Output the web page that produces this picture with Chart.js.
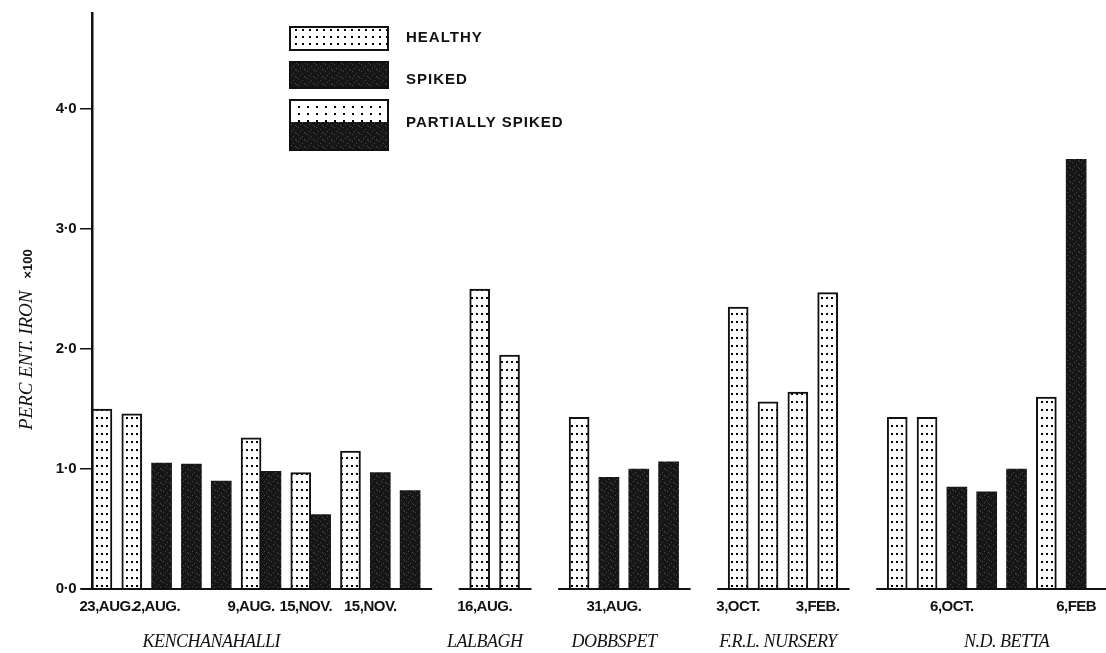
<!DOCTYPE html>
<html>
<head>
<meta charset="utf-8">
<script src="https://cdn.jsdelivr.net/npm/chart.js@4.4.1/dist/chart.umd.min.js"></script>
<style>
  html,body{margin:0;padding:0;background:#fff;}
  #wrap{width:1106px;height:653px;}
</style>
</head>
<body>
<div id="wrap"><canvas id="ironChart" width="1106" height="653"></canvas></div>
<script>
// values
const GROUPS = ['KENCHANAHALLI','LALBAGH','DOBBSPET','F.R.L. NURSERY','N.D. BETTA'];
const DATES = ['23,AUG.','2,AUG.','9,AUG.','15,NOV.','15,NOV.','16,AUG.','31,AUG.','3,OCT.','3,FEB.','6,OCT.','6,FEB'];
const BAR_GROUP = [0,0,0,0,0,0,0,0,0,0,0,0, 1,1, 2,2,2,2, 3,3,3,3, 4,4,4,4,4,4,4];
const BAR_STATE = ['H','H','S','S','S','H','S','H','S','H','S','S', 'H','H', 'H','S','S','S', 'H','H','H','H', 'H','H','S','S','S','H','S'];
const IRON = [1.50,1.46,1.05,1.04,0.90,1.26,0.98,0.97,0.62,1.15,0.97,0.82, 2.50,1.95, 1.43,0.93,1.00,1.06, 2.35,1.56,1.64,2.47, 1.43,1.43,0.85,0.81,1.00,1.60,3.58];
const Y_TICKS = [0,1,2,3,4];
const LEGEND = ['HEALTHY','SPIKED','PARTIALLY SPIKED'];

// layout: fine category grid so that bars can sit in touching pairs
const SLOTS = 205;
const FIRST_SLOT = 2;
const STEP = [0,6,6,6,6,6,4,6,4,6,6,6, 14,6, 14,6,6,6, 14,6,6,6, 14,6,6,6,6,6,6];
const DATE_SLOT = [3,13,32,43,56,79,105,130,146,173,198];
const GROUP_SLOT = [24,79,105,138,184];

const barSlot = [];
let s = FIRST_SLOT;
STEP.forEach(d => { s += d; barSlot.push(s); });
const dateLabels = Array(SLOTS).fill('');
DATE_SLOT.forEach((k,i) => dateLabels[k] = DATES[i]);
const groupLabels = Array(SLOTS).fill('');
GROUP_SLOT.forEach((k,i) => groupLabels[k] = GROUPS[i]);
const healthy = Array(SLOTS).fill(null), spiked = Array(SLOTS).fill(null), partial = Array(SLOTS).fill(null);
IRON.forEach((v,i) => { (BAR_STATE[i]==='H' ? healthy : spiked)[barSlot[i]] = v; });

const ctx = document.getElementById('ironChart').getContext('2d');

function dots(w, h, size) {
  const c = document.createElement('canvas'); c.width = w; c.height = h;
  const g = c.getContext('2d');
  g.fillStyle = '#fff'; g.fillRect(0,0,w,h);
  g.fillStyle = '#000'; g.fillRect(1,1,size,size);
  return ctx.createPattern(c,'repeat');
}
function speckle() {
  const c = document.createElement('canvas'); c.width = 9; c.height = 7;
  const g = c.getContext('2d');
  g.fillStyle = '#161616'; g.fillRect(0,0,9,7);
  g.fillStyle = '#4a4a4a';
  [[1,1],[5,3],[7,6],[3,5],[8,0]].forEach(p => g.fillRect(p[0],p[1],1,1));
  return ctx.createPattern(c,'repeat');
}
const barDots = dots(5, 8, 2);
const legendDots = dots(7, 7, 2);
const sparseDots = dots(9, 7, 2);
const blackFill = speckle();

// tighter lettering for the axis labels, as in the printed figure
const tightText = {
  id: 'tightText',
  beforeDraw(chart) { chart.ctx.letterSpacing = '-0.5px'; },
  beforeDatasetsDraw(chart) { chart.ctx.letterSpacing = '0px'; }
};

const baseline = {
  id: 'baseline',
  afterDatasetsDraw(chart) {
    const c = chart.ctx, x = chart.scales.x, y = chart.scales.y.getPixelForValue(0);
    c.save();
    c.strokeStyle = '#111'; c.lineWidth = 2;
    GROUPS.forEach((g, gi) => {
      const idx = barSlot.filter((_, i) => BAR_GROUP[i] === gi);
      const x0 = x.getPixelForValue(idx[0]) - 21;
      const x1 = gi === GROUPS.length - 1 ? chart.chartArea.right : x.getPixelForValue(idx[idx.length-1]) + 22;
      c.beginPath(); c.moveTo(x0, y); c.lineTo(x1, y); c.stroke();
    });
    c.restore();
  }
};

const paperLegend = {
  id: 'paperLegend',
  afterDraw(chart) {
    const c = chart.ctx, bx = 290, bw = 98;
    const box = [{y:27,h:23,t:38},{y:62,h:26,t:80},{y:100,h:50,t:123}];
    LEGEND.forEach((label, i) => {
      const r = box[i];
      c.save();
      if (i === 2) {
        c.fillStyle = sparseDots; c.fillRect(bx, r.y, bw, 22);
        c.fillStyle = blackFill; c.fillRect(bx, r.y + 22, bw, r.h - 22);
      } else {
        c.fillStyle = i === 0 ? legendDots : blackFill; c.fillRect(bx, r.y, bw, r.h);
      }
      c.lineWidth = 2; c.strokeStyle = '#111'; c.strokeRect(bx, r.y, bw, r.h);
      c.fillStyle = '#111'; c.font = 'bold 15px "Liberation Sans"';
      c.letterSpacing = '1px'; c.textBaseline = 'middle'; c.textAlign = 'left';
      c.fillText(label, 406, r.t);
      c.restore();
    });
    // y axis title, rotated
    c.save();
    c.letterSpacing = '0px';
    c.translate(32, 430); c.rotate(-Math.PI/2);
    c.fillStyle = '#111'; c.textBaseline = 'alphabetic'; c.textAlign = 'left';
    c.font = 'italic 19px "Liberation Serif"';
    c.fillText('PERC ENT. IRON', 0, 0);
    const w = c.measureText('PERC ENT. IRON').width;
    c.font = 'bold 13px "Liberation Sans"';
    c.fillText('\u00d7100', w + 12, 0);
    c.restore();
  }
};

Chart.defaults.font.family = '"Liberation Sans", Arial, sans-serif';
Chart.defaults.color = '#111';

const noSidePadding = sc => { sc.paddingLeft = 0; sc.paddingRight = 0; };

new Chart(ctx, {
  type: 'bar',
  data: {
    labels: dateLabels,
    datasets: [
      {label: LEGEND[0], data: healthy, backgroundColor: barDots, borderColor: '#111', borderWidth: 2, grouped: false, barThickness: 20},
      {label: LEGEND[1], data: spiked, backgroundColor: blackFill, borderWidth: 0, grouped: false, barThickness: 20},
      {label: LEGEND[2], data: partial, backgroundColor: blackFill, borderWidth: 0, grouped: false, barThickness: 20}
    ]
  },
  options: {
    responsive: false, animation: false, devicePixelRatio: 1,
    layout: {padding: {top: 13, left: 0, right: 0, bottom: 0}},
    plugins: {legend: {display: false}, tooltip: {enabled: false}},
    scales: {
      x: {
        offset: false,
        grid: {display: false, drawTicks: false}, border: {display: false},
        ticks: {autoSkip: false, maxRotation: 0, minRotation: 0, padding: 9, font: {size: 15, weight: 'bold'}},
        afterFit: sc => { sc.height = 30; noSidePadding(sc); }
      },
      x2: {
        type: 'category', position: 'bottom', labels: groupLabels, offset: false,
        grid: {display: false, drawTicks: false}, border: {display: false},
        ticks: {autoSkip: false, maxRotation: 0, minRotation: 0, padding: 12, font: {family: '"Liberation Serif"', size: 18, style: 'italic'}},
        afterFit: sc => { sc.height = 34; noSidePadding(sc); }
      },
      y: {
        min: 0, max: 4.8,
        afterBuildTicks: sc => { sc.ticks = Y_TICKS.map(v => ({value: v})); },
        ticks: {padding: 4, font: {size: 15, weight: 'bold'}, callback: v => v.toFixed(1).replace('.', '\u00b7')},
        grid: {drawOnChartArea: false, drawTicks: true, tickLength: 12, color: '#111', lineWidth: 1.5},
        border: {display: true, color: '#111', width: 2.5},
        afterFit: sc => { sc.width = 92; }
      }
    }
  },
  plugins: [tightText, baseline, paperLegend]
});
</script>
</body>
</html>
